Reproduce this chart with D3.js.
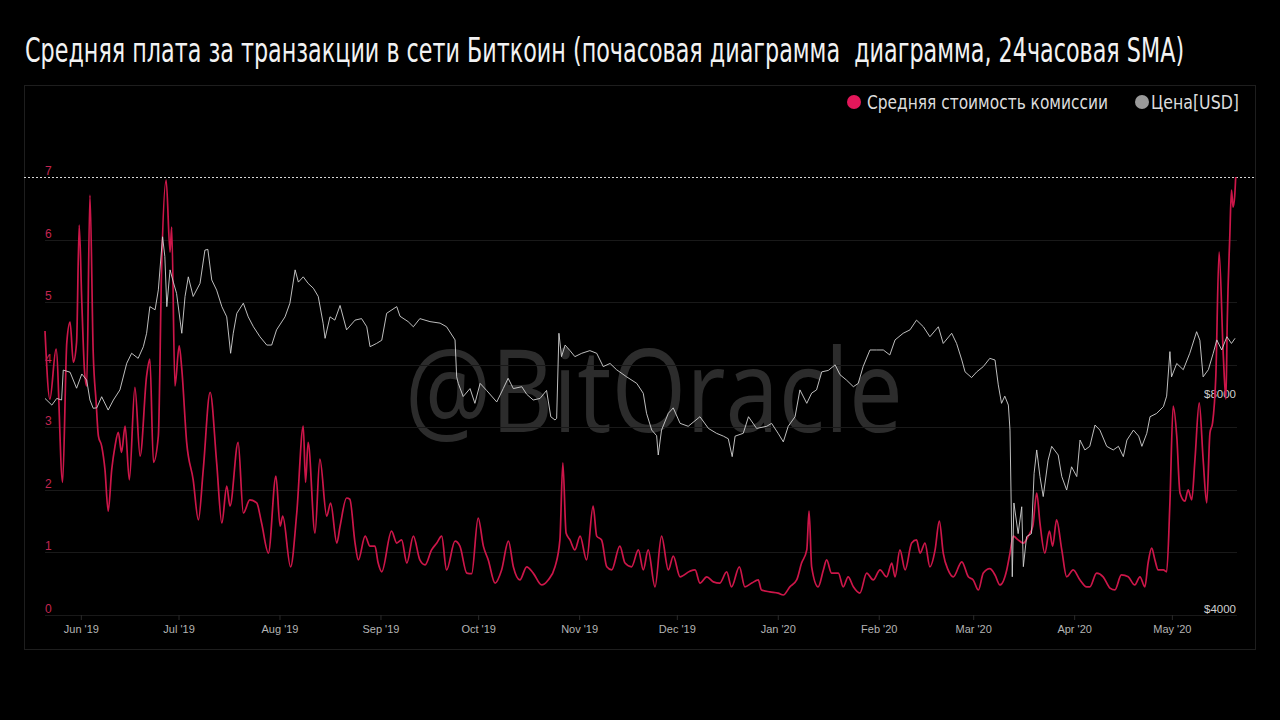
<!DOCTYPE html>
<html><head><meta charset="utf-8">
<script src="https://cdn.jsdelivr.net/npm/d3@7"></script>
<style>
html,body{margin:0;padding:0;background:#000;}
svg{display:block;}
</style></head>
<body>
<svg id="chart" width="1280" height="720"></svg>
<script>
// ---------- DATA ----------
const titleText = "Средняя плата за транзакции в сети Биткоин (почасовая диаграмма  диаграмма, 24часовая SMA)";
const legendLabels = ["Средняя стоимость комиссии", "Цена[USD]"];
const watermarkText = "@BitOracle";
const startDate = "2019-05-21";
const endDate = "2020-05-21";
const feeTicks = [0, 1, 2, 3, 4, 5, 6, 7];
const priceTicks = [4000, 8000];

// days since startDate
const feeDays = [0,1.5,3.4,5.4,6.7,7.7,8.7,9.7,10.5,11.3,12.1,12.8,13.8,14.8,15.7,16.4,17.4,18.4,19.4,20.5,21.5,22.5,23.5,24.6,25.9,27.6,29.2,31.2,32.2,33.3,34.8,35.8,37.2,38.4,38.9,39.9,41.2,42.0,43.5,45.5,47.1,48.6,50.7,52.7,54.3,55.8,56.8,59.3,60.9,62.9,65.0,66.5,68.6,70.9,72.2,73.0,75.4,77.3,79.3,80.0,80.8,82.9,84.4,86.5,87.7,89.6,90.6,92.6,93.6,95.2,96.2,98.3,99.8,101.3,102.3,103.4,106.4,108.0,109.5,111.1,113.1,115.1,116.7,118.7,120.3,121.8,123.3,125.9,127.4,129.5,131.0,133.0,134.6,136.1,138.2,140.2,142.3,143.8,145.8,147.9,149.9,152.5,154.5,156.6,158.1,159.0,160.0,161.2,162.7,164.3,166.3,168.3,169.4,170.9,172.5,174.0,176.5,178.1,180.1,182.2,183.7,185.2,187.3,189.3,191.4,192.9,195.0,198.0,199.6,201.1,203.2,205.2,207.2,209.3,210.8,213.2,214.9,217.0,219.0,220.0,222.6,225.1,226.7,228.7,230.8,232.3,233.9,234.6,235.4,237.4,239.0,240.0,241.5,243.6,245.1,246.6,248.2,250.2,252.3,254.3,256.4,258.4,260.0,261.0,262.5,264.1,266.1,267.6,268.7,270.2,271.7,273.3,274.6,275.8,277.3,278.9,281.5,283.5,285.0,286.6,288.1,290.1,291.7,293.2,295.3,296.3,297.3,298.8,300.4,301.9,303.3,304.5,305.5,307.0,308.4,309.4,310.6,312.2,313.7,315.7,317.8,319.8,320.8,322.9,324.9,327.0,328.5,330.5,332.6,334.6,336.2,337.7,338.7,339.8,340.8,341.8,343.4,344.4,345.4,346.4,347.5,348.5,350.0,351.0,352.1,353.1,354.4,355.6,356.7,357.7,358.5,359.5,360.5,361.8,362.6,363.0,363.8,364.3,364.8,365.3,365.6];
const feeValues = [4.54,3.45,4.25,2.12,4.36,4.68,4.04,4.36,6.23,5.0,3.93,3.66,6.71,4.2,3.4,2.86,2.7,2.33,1.66,2.33,2.7,2.92,2.6,3.02,2.16,3.64,2.54,3.82,4.09,2.44,2.86,5.53,6.95,5.8,6.2,3.66,4.3,3.93,2.76,2.16,1.52,2.33,3.56,2.44,1.47,2.06,1.74,2.76,1.63,1.84,1.79,1.47,0.99,2.22,1.42,1.58,0.77,1.63,3.02,2.12,2.76,1.31,2.49,1.58,1.79,1.15,1.42,1.87,1.85,1.15,0.88,1.26,1.1,1.1,0.83,0.69,1.34,1.15,1.2,0.83,1.26,0.88,0.8,1.04,1.15,1.26,0.72,1.18,1.1,0.67,0.66,1.55,1.1,0.88,0.51,0.72,1.18,0.77,0.56,0.77,0.67,0.48,0.56,0.77,1.2,2.43,1.31,1.2,1.04,1.26,0.88,1.74,1.26,1.2,0.77,0.72,1.1,0.83,0.77,1.04,0.72,1.04,0.45,1.26,0.72,0.94,0.61,0.7,0.72,0.51,0.61,0.53,0.51,0.69,0.45,0.77,0.45,0.51,0.56,0.40,0.37,0.35,0.32,0.45,0.56,0.83,1.04,1.66,0.77,0.45,0.72,0.88,0.67,0.67,0.45,0.61,0.45,0.35,0.67,0.56,0.72,0.61,0.83,0.61,1.04,0.72,1.15,1.2,0.99,1.15,0.77,1.04,1.5,0.99,0.72,0.61,0.85,0.61,0.56,0.40,0.67,0.74,0.64,0.48,0.72,0.99,1.26,1.2,1.15,1.26,1.42,1.95,1.47,0.99,1.34,1.1,1.52,1.04,0.61,0.72,0.56,0.45,0.45,0.67,0.61,0.43,0.40,0.64,0.61,0.48,0.61,0.45,0.83,1.07,0.88,0.72,0.72,0.69,1.79,3.34,2.86,1.95,1.82,2.0,1.84,2.49,3.39,2.49,1.79,2.91,3.07,3.82,5.8,4.14,3.45,4.68,6.07,6.79,6.52,6.7,7.0];

const priceDays = [0,2.1,3.6,5.1,5.6,7.7,9.7,11.3,12.8,13.8,14.8,15.9,17.4,19.4,21.0,23.0,25.1,26.6,28.6,30.2,31.2,32.2,33.8,34.8,36.1,36.8,37.4,38.4,39.4,40.4,42.0,43.0,44.0,45.5,47.6,49.1,50.0,51.2,52.7,54.3,55.8,57.0,57.8,58.9,60.9,62.4,64.0,66.0,68.1,69.6,71.1,73.7,75.2,76.8,77.8,79.3,80.8,82.4,83.9,85.4,86.0,87.5,89.0,90.6,92.6,95.2,97.2,98.8,99.8,101.8,103.4,104.9,108.0,109.0,111.5,113.1,115.1,118.2,121.3,123.3,125.9,126.4,126.9,128.4,130.5,132.0,133.6,135.6,138.7,140.7,142.2,143.8,146.4,147.9,149.9,152.0,154.0,155.3,156.6,157.1,157.8,158.6,159.7,161.2,162.7,164.8,167.3,169.4,171.4,173.5,175.5,178.6,181.7,183.7,184.7,186.3,187.8,188.3,189.3,191.4,192.9,195.0,197.5,201.1,203.7,206.2,208.3,209.8,211.0,211.9,214.4,216.0,218.5,221.6,223.1,225.1,226.7,228.2,230.3,231.8,233.9,235.4,236.9,238.5,240.5,242.6,244.1,246.1,248.2,249.7,251.2,253.3,255.3,257.4,259.4,261.0,263.5,265.6,267.6,269.7,271.7,274.3,275.8,278.4,279.9,281.5,282.5,284.5,286.1,288.1,290.1,291.7,292.7,293.7,294.7,295.8,296.3,296.6,297.0,297.5,298.8,299.9,300.4,301.4,302.9,303.7,304.5,305.5,306.5,308.0,309.1,311.1,312.2,313.7,315.2,316.8,317.8,319.3,320.8,322.4,323.9,326.0,328.0,329.6,331.1,332.2,334.2,335.8,336.8,338.3,339.3,341.3,343.4,344.4,345.4,345.9,347.5,349.5,351.5,353.6,354.6,355.6,357.2,358.7,359.8,361.3,362.9,364.3,365.4];
const priceValues = [8040,7870,8040,8000,8810,8750,8310,8700,8530,8000,7790,7800,8085,7745,8000,8265,9006,9300,9150,9500,9920,10810,10700,11410,13540,12700,10810,12170,11700,11280,9920,11170,11900,11170,11650,12970,13000,11780,11400,10810,10460,9300,9920,10580,10930,10460,10130,9810,9550,9550,10030,10460,10930,12170,11700,11900,11650,11470,11170,10245,9760,10460,10350,10850,10030,10350,10400,10130,9500,9600,9700,10580,10810,10480,10300,10130,10400,10300,10250,10130,9710,8620,8440,8090,8300,7915,8440,8250,7950,8300,8580,8300,8350,8150,8000,8040,8250,7580,7500,7540,9920,9200,9550,9380,9200,9300,9380,9300,8910,9000,8820,8620,8440,8175,7665,7260,7130,6700,7260,7665,7800,7420,7350,7580,7300,7185,7120,7060,6665,7120,7185,7580,7300,7350,7420,7185,6990,7350,7580,8265,7915,8180,8265,8760,8800,8960,8680,8530,8350,8440,8910,9400,9400,9400,9250,9710,9920,10030,10350,10130,9810,10130,9600,9920,9600,9100,8760,8600,8760,8910,9150,9100,8400,7915,8100,7870,7260,5985,4525,5740,5200,5670,4675,5150,5200,6316,6810,6250,5860,6590,6890,6700,6250,5985,6450,6250,7030,6810,6890,7380,7260,6890,6810,6890,6665,7030,7260,7120,6890,7185,7580,7660,7830,8100,9350,8620,9000,8820,9300,9970,9700,8620,8820,9300,9710,9400,9810,9600,9760];

// ---------- CHART ----------
const svg = d3.select("#chart");
const W = 1280, H = 720;
const plot = {left: 45, right: 1237, top: 176, bottom: 615};
const redLine = "#cc1649", redDot = "#e3175a", grayLine = "#d2d2d2";

svg.append("rect").attr("width", W).attr("height", H).attr("fill", "#000");

// title: tall condensed look, horizontally scaled to the reference width
const title = svg.append("text")
  .attr("x", 0).attr("y", 0)
  .attr("fill", "#f2f2f2")
  .style("font-family", "'Liberation Sans Narrow', 'DejaVu Sans Condensed', sans-serif")
  .style("font-size", "33px")
  .style("white-space", "pre")
  .attr("xml:space", "preserve")
  .text(titleText);
{
  const w = title.node().getComputedTextLength();
  const sx = Math.min(1, 1160 / w);
  title.attr("transform", `translate(25,62) scale(${sx.toFixed(4)},1)`);
}

// panel border
svg.append("rect")
  .attr("x", 24.5).attr("y", 85.5).attr("width", 1231).attr("height", 564)
  .attr("fill", "none").attr("stroke", "#1e1e1e").attr("stroke-width", 1);

const parse = d3.utcParse("%Y-%m-%d");
const t0 = parse(startDate), t1 = parse(endDate);
const dayMs = 864e5;
const toDate = d => new Date(t0.getTime() + d * dayMs);

const x = d3.scaleUtc().domain([t0, t1]).range([plot.left, plot.right]);
const y = d3.scaleLinear().domain([0, 7]).range([plot.bottom, plot.top + 1]);
const yP = d3.scaleLog().domain([4000, 8000]).range([plot.bottom, 400]);

// watermark
const wm = svg.append("text")
  .attr("x", 405).attr("y", 432)
  .attr("fill", "#2c2c2c")
  .style("font-family", "'Open Sans', 'Noto Sans', sans-serif")
  .style("font-size", "116px")
  .text(watermarkText);
wm.attr("textLength", 498).attr("lengthAdjust", "spacingAndGlyphs");

// gridlines
svg.append("g").selectAll("line")
  .data(feeTicks.filter(v => v < 7))
  .join("line")
  .attr("x1", plot.left).attr("x2", plot.right)
  .attr("y1", d => Math.round(y(d)) + 0.5).attr("y2", d => Math.round(y(d)) + 0.5)
  .attr("stroke", "#191919").attr("stroke-width", 1);

// top dotted line
svg.append("line")
  .attr("x1", 24).attr("x2", 1256)
  .attr("y1", Math.round(y(7)) + 0.5).attr("y2", Math.round(y(7)) + 0.5)
  .attr("stroke", "#d8d8d8").attr("stroke-width", 1)
  .attr("stroke-dasharray", "2,2");

// left axis labels
svg.append("g").selectAll("text")
  .data(feeTicks)
  .join("text")
  .attr("x", 45).attr("y", d => y(d) - 2)
  .attr("fill", "#c42550")
  .style("font-family", "'Liberation Sans', Arial, sans-serif")
  .style("font-size", "12px")
  .text(d => d);

// right axis labels
svg.append("g").selectAll("text")
  .data(priceTicks)
  .join("text")
  .attr("x", 1236).attr("y", d => yP(d) - 2)
  .attr("text-anchor", "end")
  .attr("fill", "#cfcfcf")
  .style("font-family", "'Liberation Sans', Arial, sans-serif")
  .style("font-size", "11.5px")
  .text(d => "$" + d);

// x axis
const xAxis = d3.axisBottom(x)
  .ticks(d3.utcMonth.every(1))
  .tickFormat(d3.utcFormat("%b '%y"))
  .tickSize(5).tickPadding(5);
const gx = svg.append("g").attr("transform", `translate(0,${plot.bottom})`).call(xAxis);
gx.select(".domain").remove();
gx.selectAll(".tick line").attr("stroke", "#2a2a2a");
gx.selectAll(".tick text")
  .attr("fill", "#b4b4b4")
  .style("font-family", "'Liberation Sans', Arial, sans-serif")
  .style("font-size", "11px");

// lines
const feeData = feeDays.map((d, i) => ({t: toDate(d), v: feeValues[i]}));
const priceData = priceDays.map((d, i) => ({t: toDate(d), v: priceValues[i]}));

svg.append("path")
  .datum(feeData)
  .attr("fill", "none").attr("stroke", redLine).attr("stroke-width", 1.7)
  .attr("d", d3.line().x(d => x(d.t)).y(d => y(d.v)).curve(d3.curveMonotoneX));

svg.append("path")
  .datum(priceData)
  .attr("fill", "none").attr("stroke", grayLine).attr("stroke-width", 1).attr("stroke-opacity", 0.9)
  .attr("d", d3.line().x(d => x(d.t)).y(d => yP(d.v)));

// legend
const lg = svg.append("g").style("font-family", "'Liberation Sans Narrow', 'DejaVu Sans Condensed', sans-serif");
lg.append("circle").attr("cx", 854).attr("cy", 102).attr("r", 7).attr("fill", redDot);
lg.append("text").attr("x", 867).attr("y", 108.5).attr("fill", "#dcdcdc").style("font-size", "19px")
  .text(legendLabels[0]).attr("textLength", 241).attr("lengthAdjust", "spacingAndGlyphs");
lg.append("circle").attr("cx", 1142).attr("cy", 102).attr("r", 7).attr("fill", "#9a9a9a");
lg.append("text").attr("x", 1151).attr("y", 108.5).attr("fill", "#dcdcdc").style("font-size", "19px")
  .text(legendLabels[1]).attr("textLength", 88).attr("lengthAdjust", "spacingAndGlyphs");
</script>
</body></html>
